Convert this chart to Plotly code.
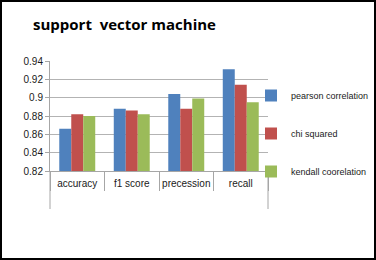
import plotly.graph_objects as go

categories = ["accuracy", "f1 score", "precession", "recall"]
pearson = [0.866, 0.888, 0.904, 0.931]
chi = [0.882, 0.886, 0.888, 0.914]
kendall = [0.880, 0.882, 0.899, 0.895]
series_names = ["pearson correlation", "chi squared", "kendall coorelation"]
colors = ["#4F81BD", "#C0504D", "#9BBB59"]
y_ticks = [0.82, 0.84, 0.86, 0.88, 0.90, 0.92, 0.94]
y_tick_labels = ["0.82", "0.84", "0.86", "0.88", "0.9", "0.92", "0.94"]

W, H = 376, 260
L, R, T, B = 50, 108, 61, 89
PW, PH = W - L - R, H - T - B

fig = go.Figure()
for i, (name, vals) in enumerate(zip(series_names, [pearson, chi, kendall])):
    fig.add_trace(go.Bar(x=categories, y=vals, name=name, marker_color=colors[i],
                         marker_line_width=0, legendgroup=name))

def px_x(p):
    return (p - L) / PW

def px_y(p):
    return (H - B - p) / PH

shapes = [
    dict(type="line", xref="paper", yref="paper", x0=0, x1=0, y0=0, y1=px_y(209),
         line=dict(color="#a6a6a6", width=1)),
    dict(type="line", xref="paper", yref="paper", x0=1, x1=1, y0=0, y1=px_y(209),
         line=dict(color="#a6a6a6", width=1)),
    dict(type="rect", xref="paper", yref="paper", x0=px_x(1), x1=px_x(375),
         y0=px_y(259), y1=px_y(1), line=dict(color="#000000", width=2),
         fillcolor="rgba(0,0,0,0)", layer="above"),
]

fig.update_layout(
    width=W, height=H,
    margin=dict(l=L, r=R, t=T, b=B, pad=0, autoexpand=False),
    paper_bgcolor="white", plot_bgcolor="white",
    barmode="group", bargap=0.34, bargroupgap=0,
    font=dict(family="Liberation Sans, Arial, sans-serif", size=10, color="#1a1a1a"),
    title=dict(text="<b>support  vector machine</b>", x=33 / W, xanchor="left",
               y=1 - 25 / H, yanchor="middle",
               font=dict(family="Open Sans, sans-serif", size=15, color="#000000")),
    showlegend=True,
    legend=dict(xref="container", yref="container", x=251 / W, xanchor="left",
                y=1 - 81 / H, yanchor="top",
                font=dict(size=9, color="#1a1a1a"), tracegroupgap=19,
                itemwidth=30, bgcolor="rgba(0,0,0,0)"),
    xaxis=dict(showgrid=False, showline=True, linecolor="#a6a6a6", linewidth=1,
               ticks="outside", tickson="boundaries", ticklen=19, tickcolor="#a6a6a6",
               tickangle=0, tickfont=dict(size=10), ticklabelstandoff=3,
               fixedrange=True),
    yaxis=dict(range=[0.82, 0.94], tickvals=y_ticks, ticktext=y_tick_labels,
               showgrid=True, gridcolor="#b3b3b3", gridwidth=1,
               showline=True, linecolor="#a6a6a6", linewidth=1,
               ticks="outside", ticklen=4, tickcolor="#a6a6a6",
               tickfont=dict(size=10), zeroline=False),
    shapes=shapes,
)

fig.write_html("out.html")
